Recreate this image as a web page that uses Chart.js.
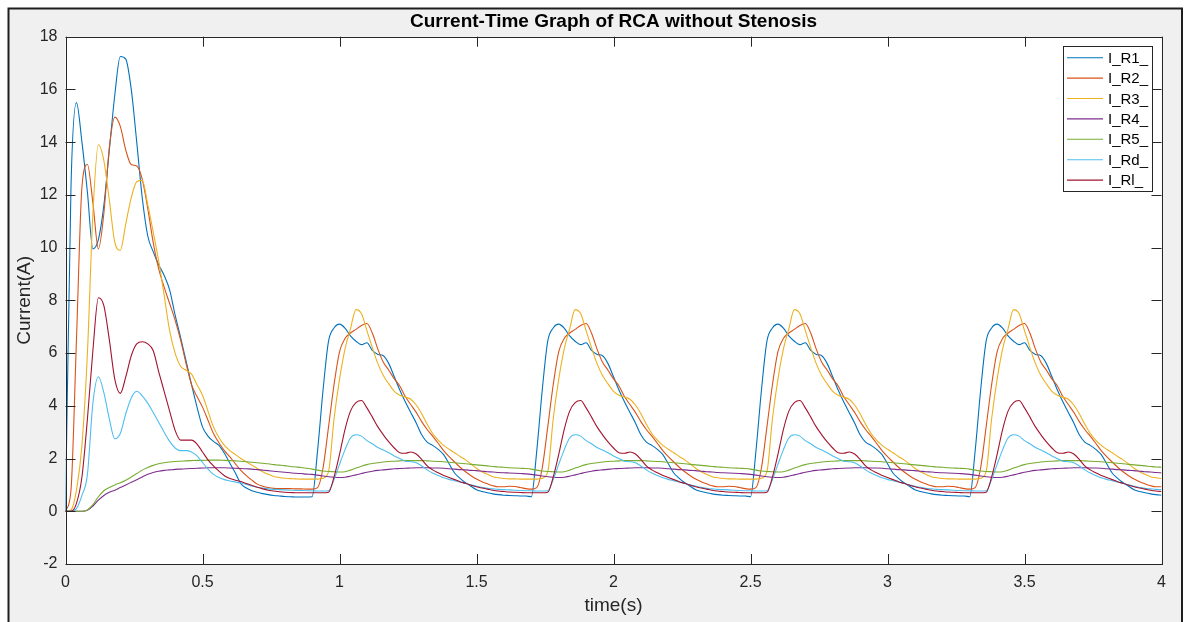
<!DOCTYPE html>
<html><head><meta charset="utf-8">
<script src="https://cdn.jsdelivr.net/npm/chart.js@4.4.1/dist/chart.umd.min.js"></script>
<style>html,body{margin:0;padding:0;background:#fff;overflow:hidden}canvas{display:block}</style>
</head><body>
<canvas id="c" width="1184" height="622"></canvas>
<script>
const chartTitle = 'Current-Time Graph of RCA without Stenosis';
const xTitle = 'time(s)';
const yTitle = 'Current(A)';
const seriesNames = ['I_R1_','I_R2_','I_R3_','I_R4_','I_R5_','I_Rd_','I_Rl_'];

const time = [
0,0.02,0.04,0.06,0.08,0.1,0.12,0.14,0.16,0.18,0.2,0.22,0.24,0.26,0.28,0.3,0.32,0.34,0.36,0.38,
0.4,0.42,0.44,0.46,0.48,0.5,0.52,0.54,0.56,0.58,0.6,0.62,0.64,0.66,0.68,0.7,0.72,0.74,0.76,0.78,
0.8,0.82,0.84,0.86,0.88,0.9,0.92,0.94,0.96,0.98,
1,1.02,1.04,1.06,1.08,1.1,1.12,1.14,1.16,1.18,1.2,1.22,1.24,1.26,1.28,1.3,1.32,1.34,1.36,1.38,
1.4,1.42,1.44,1.46,1.48,1.5,1.52,1.54,1.56,1.58,1.6,1.62,1.64,1.66,1.68,1.7,1.72,1.74,1.76,1.78,
1.8,1.82,1.84,1.86,1.88,1.9,1.92,1.94,1.96,1.98,
2,2.02,2.04,2.06,2.08,2.1,2.12,2.14,2.16,2.18,2.2,2.22,2.24,2.26,2.28,2.3,2.32,2.34,2.36,2.38,
2.4,2.42,2.44,2.46,2.48,2.5,2.52,2.54,2.56,2.58,2.6,2.62,2.64,2.66,2.68,2.7,2.72,2.74,2.76,2.78,
2.8,2.82,2.84,2.86,2.88,2.9,2.92,2.94,2.96,2.98,
3,3.02,3.04,3.06,3.08,3.1,3.12,3.14,3.16,3.18,3.2,3.22,3.24,3.26,3.28,3.3,3.32,3.34,3.36,3.38,
3.4,3.42,3.44,3.46,3.48,3.5,3.52,3.54,3.56,3.58,3.6,3.62,3.64,3.66,3.68,3.7,3.72,3.74,3.76,3.78,
3.8,3.82,3.84,3.86,3.88,3.9,3.92,3.94,3.96,3.98,
4];

const iR1 = [
0,12.3,15.5,14.0,12.1,9.95,10.3,11.6,13.7,15.8,17.25,17.15,16.0,14.0,11.9,10.45,9.85,9.35,8.95,8.4,7.45,6.6,5.7,4.8,3.95,3.2,2.85,2.65,2.5,2.2,1.82,1.45,1.05,0.88,0.78,0.72,0.67,0.63,0.6,0.58,0.56,0.55,0.54,0.54,0.54,
0.55,2.3,4.6,6.45,6.95,7.1,6.95,6.65,6.45,6.32,6.39,6.1,5.95,5.9,5.6,5.1,4.6,4.15,3.75,3.35,2.9,2.62,2.5,2.35,2.15,1.8,1.45,1.25,1.08,0.95,0.82,0.75,0.7,0.66,0.63,0.61,0.6,0.59,0.58,0.58,
0.55,2.3,4.6,6.45,6.95,7.1,6.95,6.65,6.45,6.32,6.39,6.1,5.95,5.9,5.6,5.1,4.6,4.15,3.75,3.35,2.9,2.62,2.5,2.35,2.15,1.8,1.45,1.25,1.08,0.95,0.82,0.75,0.7,0.66,0.63,0.61,0.6,0.59,0.58,0.58,
0.55,2.3,4.6,6.45,6.95,7.1,6.95,6.65,6.45,6.32,6.39,6.1,5.95,5.9,5.6,5.1,4.6,4.15,3.75,3.35,2.9,2.62,2.5,2.35,2.15,1.8,1.45,1.25,1.08,0.95,0.82,0.75,0.7,0.66,0.63,0.61,0.6,0.59,0.58,0.58,
0.55,2.3,4.6,6.45,6.95,7.1,6.95,6.65,6.45,6.32,6.39,6.1,5.95,5.9,5.6,5.1,4.6,4.15,3.75,3.35,2.9,2.62,2.5,2.35,2.15,1.8,1.45,1.25,1.08,0.95,0.82,0.75,0.7,0.66,0.63,0.61];

const iR2 = [
0,0.8,6.5,12.3,13.15,11.7,9.95,11.3,13.8,14.95,14.6,13.7,13.15,13.1,12.6,11.5,10.2,9.2,8.5,7.88,7.25,6.5,5.6,4.8,4.35,3.95,3.45,2.95,2.6,2.3,2.06,1.8,1.55,1.35,1.18,1.03,0.95,0.9,0.87,0.86,0.86,0.86,0.85,0.85,0.84,
0.84,0.9,1.65,3.2,4.8,6.05,6.55,6.76,6.9,7.05,7.12,6.75,6.15,5.65,5.35,5.02,4.75,4.35,4.05,3.75,3.4,3.1,2.85,2.58,2.3,2.07,1.87,1.67,1.5,1.35,1.22,1.12,1.04,0.97,0.93,0.93,0.95,0.94,0.9,0.86,
0.84,0.9,1.65,3.2,4.8,6.05,6.55,6.76,6.9,7.05,7.12,6.75,6.15,5.65,5.35,5.02,4.75,4.35,4.05,3.75,3.4,3.1,2.85,2.58,2.3,2.07,1.87,1.67,1.5,1.35,1.22,1.12,1.04,0.97,0.93,0.93,0.95,0.94,0.9,0.86,
0.84,0.9,1.65,3.2,4.8,6.05,6.55,6.76,6.9,7.05,7.12,6.75,6.15,5.65,5.35,5.02,4.75,4.35,4.05,3.75,3.4,3.1,2.85,2.58,2.3,2.07,1.87,1.67,1.5,1.35,1.22,1.12,1.04,0.97,0.93,0.93,0.95,0.94,0.9,0.86,
0.84,0.9,1.65,3.2,4.8,6.05,6.55,6.76,6.9,7.05,7.12,6.75,6.15,5.65,5.35,5.02,4.75,4.35,4.05,3.75,3.4,3.1,2.85,2.58,2.3,2.07,1.87,1.67,1.5,1.35,1.22,1.12,1.04,0.97,0.93,0.93];

const iR3 = [
0,0.05,0.8,2.5,6.0,11.3,13.9,13.3,11.8,10.2,9.9,10.9,11.9,12.5,12.55,11.65,10.6,9.5,8.2,6.85,6.0,5.5,5.35,5.2,4.8,4.4,3.8,3.2,2.8,2.5,2.3,2.15,2.0,1.88,1.75,1.62,1.5,1.4,1.32,1.28,1.25,1.24,1.23,1.22,1.22,
1.22,1.22,1.25,1.5,3.5,5.0,6.15,6.92,7.65,7.5,6.85,6.2,5.6,5.15,4.83,4.55,4.4,4.33,4.25,4.03,3.7,3.3,2.95,2.7,2.5,2.35,2.22,2.08,1.95,1.8,1.63,1.5,1.4,1.31,1.27,1.24,1.23,1.23,1.22,1.22,
1.22,1.22,1.25,1.5,3.5,5.0,6.15,6.92,7.65,7.5,6.85,6.2,5.6,5.15,4.83,4.55,4.4,4.33,4.25,4.03,3.7,3.3,2.95,2.7,2.5,2.35,2.22,2.08,1.95,1.8,1.63,1.5,1.4,1.31,1.27,1.24,1.23,1.23,1.22,1.22,
1.22,1.22,1.25,1.5,3.5,5.0,6.15,6.92,7.65,7.5,6.85,6.2,5.6,5.15,4.83,4.55,4.4,4.33,4.25,4.03,3.7,3.3,2.95,2.7,2.5,2.35,2.22,2.08,1.95,1.8,1.63,1.5,1.4,1.31,1.27,1.24,1.23,1.23,1.22,1.22,
1.22,1.22,1.25,1.5,3.5,5.0,6.15,6.92,7.65,7.5,6.85,6.2,5.6,5.15,4.83,4.55,4.4,4.33,4.25,4.03,3.7,3.3,2.95,2.7,2.5,2.35,2.22,2.08,1.95,1.8,1.63,1.5,1.4,1.31,1.27,1.24];

const iR4 = [
0,0,0,0,0.04,0.2,0.42,0.6,0.72,0.8,0.9,1.0,1.1,1.2,1.3,1.4,1.47,1.52,1.55,1.57,1.59,1.6,1.61,1.62,1.63,1.64,1.65,1.65,1.65,1.65,1.64,1.63,1.62,1.61,1.6,1.58,1.56,1.54,1.52,1.5,1.48,1.46,1.44,1.43,1.41,
1.4,1.37,1.34,1.31,1.29,1.28,1.29,1.33,1.38,1.43,1.48,1.52,1.55,1.57,1.59,1.61,1.62,1.63,1.64,1.65,1.65,1.65,1.64,1.64,1.63,1.61,1.6,1.58,1.57,1.55,1.54,1.52,1.5,1.49,1.47,1.46,1.45,1.44,1.43,1.42,
1.4,1.37,1.34,1.31,1.29,1.28,1.29,1.33,1.38,1.43,1.48,1.52,1.55,1.57,1.59,1.61,1.62,1.63,1.64,1.65,1.65,1.65,1.64,1.64,1.63,1.61,1.6,1.58,1.57,1.55,1.54,1.52,1.5,1.49,1.47,1.46,1.45,1.44,1.43,1.42,
1.4,1.37,1.34,1.31,1.29,1.28,1.29,1.33,1.38,1.43,1.48,1.52,1.55,1.57,1.59,1.61,1.62,1.63,1.64,1.65,1.65,1.65,1.64,1.64,1.63,1.61,1.6,1.58,1.57,1.55,1.54,1.52,1.5,1.49,1.47,1.46,1.45,1.44,1.43,1.42,
1.4,1.37,1.34,1.31,1.29,1.28,1.29,1.33,1.38,1.43,1.48,1.52,1.55,1.57,1.59,1.61,1.62,1.63,1.64,1.65,1.65,1.65,1.64,1.64,1.63,1.61,1.6,1.58,1.57,1.55,1.54,1.52,1.5,1.49,1.47,1.46];

const iR5 = [
0,0,0,0,0.05,0.25,0.55,0.78,0.9,1.0,1.08,1.18,1.3,1.43,1.56,1.66,1.74,1.8,1.84,1.87,1.89,1.9,1.91,1.92,1.93,1.93,1.94,1.94,1.94,1.93,1.92,1.91,1.9,1.88,1.86,1.84,1.82,1.8,1.77,1.75,1.73,1.7,1.68,1.66,1.63,
1.6,1.56,1.53,1.51,1.5,1.49,1.5,1.56,1.64,1.71,1.77,1.81,1.84,1.87,1.89,1.9,1.91,1.92,1.92,1.92,1.92,1.91,1.9,1.89,1.88,1.86,1.84,1.82,1.8,1.78,1.76,1.74,1.72,1.7,1.68,1.67,1.65,1.64,1.63,1.62,
1.6,1.56,1.53,1.51,1.5,1.49,1.5,1.56,1.64,1.71,1.77,1.81,1.84,1.87,1.89,1.9,1.91,1.92,1.92,1.92,1.92,1.91,1.9,1.89,1.88,1.86,1.84,1.82,1.8,1.78,1.76,1.74,1.72,1.7,1.68,1.67,1.65,1.64,1.63,1.62,
1.6,1.56,1.53,1.51,1.5,1.49,1.5,1.56,1.64,1.71,1.77,1.81,1.84,1.87,1.89,1.9,1.91,1.92,1.92,1.92,1.92,1.91,1.9,1.89,1.88,1.86,1.84,1.82,1.8,1.78,1.76,1.74,1.72,1.7,1.68,1.67,1.65,1.64,1.63,1.62,
1.6,1.56,1.53,1.51,1.5,1.49,1.5,1.56,1.64,1.71,1.77,1.81,1.84,1.87,1.89,1.9,1.91,1.92,1.92,1.92,1.92,1.91,1.9,1.89,1.88,1.86,1.84,1.82,1.8,1.78,1.76,1.74,1.72,1.7,1.68,1.67];

const iRd = [
0,0,0.1,0.6,1.4,4.1,5.1,4.5,3.5,2.75,2.95,3.7,4.3,4.55,4.38,4.1,3.75,3.38,3.0,2.65,2.4,2.3,2.3,2.25,2.1,1.85,1.6,1.4,1.28,1.2,1.15,1.11,1.07,1.02,0.96,0.91,0.88,0.85,0.83,0.82,0.81,0.8,0.79,0.79,0.78,
0.78,0.77,0.77,0.78,1.2,1.78,2.33,2.78,2.9,2.85,2.68,2.56,2.42,2.32,2.22,2.1,2.0,1.9,1.88,1.84,1.72,1.57,1.45,1.36,1.27,1.21,1.16,1.11,1.05,1.0,0.95,0.91,0.87,0.85,0.83,0.82,0.81,0.8,0.79,0.78,
0.78,0.77,0.77,0.78,1.2,1.78,2.33,2.78,2.9,2.85,2.68,2.56,2.42,2.32,2.22,2.1,2.0,1.9,1.88,1.84,1.72,1.57,1.45,1.36,1.27,1.21,1.16,1.11,1.05,1.0,0.95,0.91,0.87,0.85,0.83,0.82,0.81,0.8,0.79,0.78,
0.78,0.77,0.77,0.78,1.2,1.78,2.33,2.78,2.9,2.85,2.68,2.56,2.42,2.32,2.22,2.1,2.0,1.9,1.88,1.84,1.72,1.57,1.45,1.36,1.27,1.21,1.16,1.11,1.05,1.0,0.95,0.91,0.87,0.85,0.83,0.82,0.81,0.8,0.79,0.78,
0.78,0.77,0.77,0.78,1.2,1.78,2.33,2.78,2.9,2.85,2.68,2.56,2.42,2.32,2.22,2.1,2.0,1.9,1.88,1.84,1.72,1.57,1.45,1.36,1.27,1.21,1.16,1.11,1.05,1.0,0.95,0.91,0.87,0.85,0.83,0.82];

const iRl = [
0,0,0.3,1.3,3.5,6.1,8.1,7.8,6.5,5.0,4.47,5.1,5.9,6.35,6.43,6.35,6.1,5.3,4.55,3.8,3.07,2.7,2.7,2.7,2.55,2.25,1.95,1.72,1.52,1.35,1.24,1.18,1.13,1.05,0.98,0.91,0.85,0.8,0.77,0.74,0.72,0.71,0.7,0.7,0.7,
0.7,0.7,0.7,0.72,1.3,2.15,3.1,3.8,4.12,4.2,3.92,3.57,3.2,2.9,2.63,2.4,2.22,2.2,2.25,2.17,1.97,1.72,1.57,1.46,1.36,1.28,1.2,1.12,1.06,0.99,0.93,0.88,0.84,0.8,0.77,0.75,0.73,0.72,0.71,0.7,
0.7,0.7,0.7,0.72,1.3,2.15,3.1,3.8,4.12,4.2,3.92,3.57,3.2,2.9,2.63,2.4,2.22,2.2,2.25,2.17,1.97,1.72,1.57,1.46,1.36,1.28,1.2,1.12,1.06,0.99,0.93,0.88,0.84,0.8,0.77,0.75,0.73,0.72,0.71,0.7,
0.7,0.7,0.7,0.72,1.3,2.15,3.1,3.8,4.12,4.2,3.92,3.57,3.2,2.9,2.63,2.4,2.22,2.2,2.25,2.17,1.97,1.72,1.57,1.46,1.36,1.28,1.2,1.12,1.06,0.99,0.93,0.88,0.84,0.8,0.77,0.75,0.73,0.72,0.71,0.7,
0.7,0.7,0.7,0.72,1.3,2.15,3.1,3.8,4.12,4.2,3.92,3.57,3.2,2.9,2.63,2.4,2.22,2.2,2.25,2.17,1.97,1.72,1.57,1.46,1.36,1.28,1.2,1.12,1.06,0.99,0.93,0.88,0.84,0.8,0.77,0.75];

const xTickValues = [0,0.5,1,1.5,2,2.5,3,3.5,4];
const xTickLabels = ['0','0.5','1','1.5','2','2.5','3','3.5','4'];
const yTickValues = [-2,0,2,4,6,8,10,12,14,16,18];
const yTickLabels = ['-2','0','2','4','6','8','10','12','14','16','18'];

const seriesValues = [iR1,iR2,iR3,iR4,iR5,iRd,iRl];
const seriesColors = ['#0072BD','#D95319','#EDB120','#7E2F8E','#77AC30','#4DBEEE','#A2142F'];
const FONT = '"Liberation Sans", Arial, Helvetica, sans-serif';
const AXIS = '#262626';

const datasets = seriesNames.map((name, i) => ({
  label: name,
  data: time.map((t, k) => ({x: t, y: seriesValues[i][k]})),
  borderColor: seriesColors[i],
  backgroundColor: seriesColors[i],
  borderWidth: 1.1,
  pointRadius: 0,
  fill: false,
  cubicInterpolationMode: 'monotone',
  order: seriesNames.length - 1 - i
}));

const matlabPlugin = {
  id: 'matlab',
  beforeDraw(chart) {
    const ctx = chart.ctx, a = chart.chartArea, W = chart.width, H = chart.height;
    ctx.save();
    ctx.fillStyle = '#ffffff'; ctx.fillRect(0, 0, W, H);
    ctx.fillStyle = '#f0f0f0'; ctx.fillRect(9, 9, 1172, H);
    ctx.strokeStyle = '#1e1e1e'; ctx.lineWidth = 2;
    ctx.beginPath(); ctx.moveTo(8.5, H + 3); ctx.lineTo(8.5, 8.5); ctx.lineTo(1182, 8.5); ctx.lineTo(1182, H + 3); ctx.stroke();
    ctx.fillStyle = '#ffffff'; ctx.fillRect(a.left, a.top, a.right - a.left, a.bottom - a.top);
    ctx.restore();
  },
  afterDatasetsDraw(chart) {
    const ctx = chart.ctx, a = chart.chartArea, xs = chart.scales.x, ys = chart.scales.y;
    ctx.save();
    ctx.strokeStyle = AXIS; ctx.lineWidth = 1;
    ctx.strokeRect(Math.round(a.left) + 0.5, Math.round(a.top) + 0.5, Math.round(a.right - a.left), Math.round(a.bottom - a.top));
    const L = 10;
    ctx.beginPath();
    xTickValues.forEach(v => {
      const px = Math.round(xs.getPixelForValue(v)) + 0.5;
      ctx.moveTo(px, a.bottom); ctx.lineTo(px, a.bottom - L);
      ctx.moveTo(px, a.top); ctx.lineTo(px, a.top + L);
    });
    yTickValues.forEach(v => {
      const py = Math.round(ys.getPixelForValue(v)) + 0.5;
      ctx.moveTo(a.left, py); ctx.lineTo(a.left + L, py);
      ctx.moveTo(a.right, py); ctx.lineTo(a.right - L, py);
    });
    ctx.stroke();
    ctx.restore();
  },
  afterDraw(chart) {
    const ctx = chart.ctx;
    const bx = 1063.5, by = 46.5, bw = 89, bh = 145;
    ctx.save();
    ctx.fillStyle = '#ffffff'; ctx.fillRect(bx, by, bw, bh);
    ctx.strokeStyle = AXIS; ctx.lineWidth = 1; ctx.strokeRect(bx, by, bw, bh);
    ctx.font = '15px ' + FONT; ctx.textBaseline = 'middle'; ctx.textAlign = 'left';
    chart.data.datasets.forEach((ds, i) => {
      const y = 57.7 + i * 20.4;
      ctx.strokeStyle = ds.borderColor; ctx.lineWidth = 1.1;
      ctx.beginPath(); ctx.moveTo(1067, y); ctx.lineTo(1103, y); ctx.stroke();
      ctx.fillStyle = '#000000'; ctx.fillText(ds.label, 1108, y + 1);
    });
    ctx.restore();
  }
};

new Chart(document.getElementById('c'), {
  type: 'line',
  data: { datasets },
  options: {
    responsive: false,
    animation: false,
    events: [],
    layout: { padding: { left: 9, right: 22.5, top: 10, bottom: 0 } },
    plugins: {
      legend: { display: false },
      tooltip: { enabled: false },
      title: {
        display: true, text: chartTitle, color: '#000000', fullSize: false,
        font: { family: FONT, size: 19, weight: 'bold' },
        padding: { top: 0.5, bottom: 3.4 }
      }
    },
    scales: {
      x: {
        type: 'linear', min: 0, max: 4,
        afterFit(s) { s.height = 58; },
        afterBuildTicks(s) { s.ticks = xTickValues.map(v => ({value: v})); },
        grid: { display: false, drawTicks: false },
        border: { display: false },
        ticks: {
          color: AXIS, padding: 9, maxRotation: 0, font: { family: FONT, size: 16 },
          callback: (v) => xTickLabels[xTickValues.indexOf(v)]
        },
        title: { display: true, text: xTitle, color: AXIS, padding: { top: 0, bottom: 5 }, font: { family: FONT, size: 19 } }
      },
      y: {
        type: 'linear', min: -2, max: 18,
        afterFit(s) { s.width = 56.5; },
        afterBuildTicks(s) { s.ticks = yTickValues.map(v => ({value: v})); },
        grid: { display: false, drawTicks: false },
        border: { display: false },
        ticks: {
          color: AXIS, padding: 8, font: { family: FONT, size: 16 },
          callback: (v) => yTickLabels[yTickValues.indexOf(v)]
        },
        title: { display: true, text: yTitle, color: AXIS, padding: { top: 4.5, bottom: 0 }, font: { family: FONT, size: 19 } }
      }
    }
  },
  plugins: [matlabPlugin]
});
</script>
</body></html>
